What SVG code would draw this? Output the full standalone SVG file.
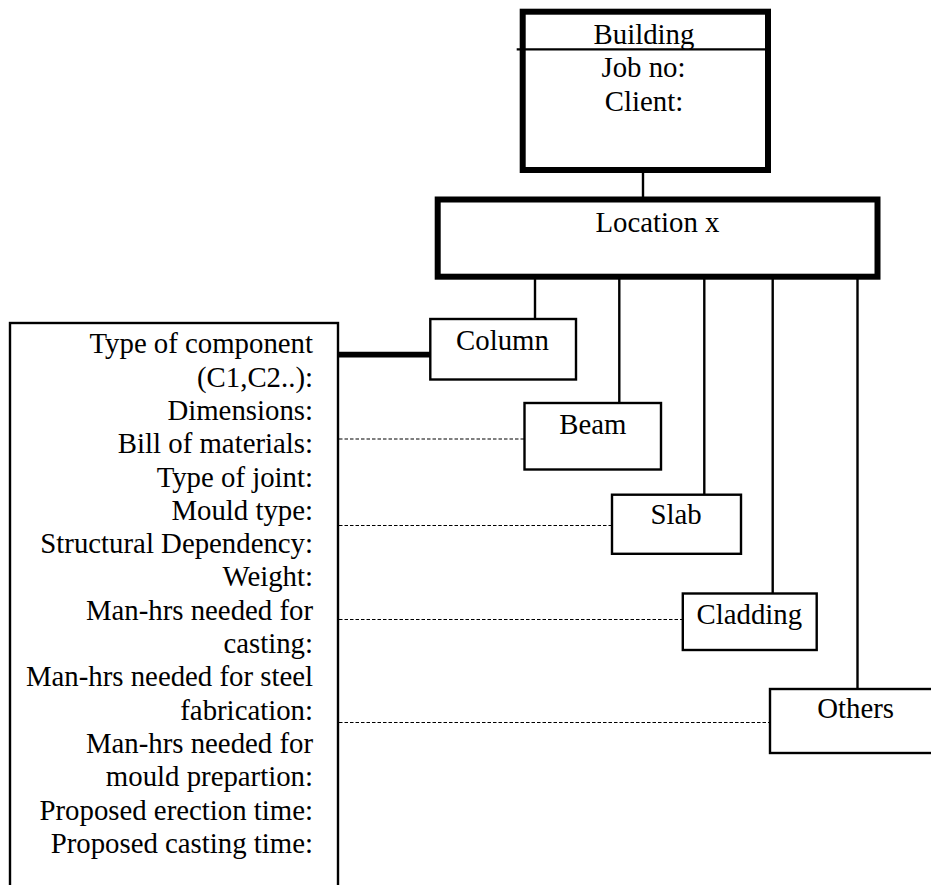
<svg xmlns="http://www.w3.org/2000/svg" width="931" height="885" viewBox="0 0 931 885" font-family="'Liberation Serif', Tinos, 'Times New Roman', 'DejaVu Serif', serif">
  <style>
    .lbl { font-family: 'Liberation Serif', Tinos, 'Times New Roman', 'DejaVu Serif', serif; font-size: 28.8px; fill: #000; }
    .mid { text-anchor: middle; }
    .end { text-anchor: end; }
    .thick { fill: #fff; stroke: #000; stroke-width: 6; }
    .box { fill: #fff; stroke: #000; stroke-width: 2.4; }
    .link { stroke: #000; stroke-width: 2.4; fill: none; }
    .dash { stroke: #000; stroke-width: 1.2; stroke-dasharray: 3.5 2; fill: none; }
  </style>
  <rect width="931" height="885" fill="#fff"/>

  <!-- connectors -->
  <g id="connectors">
    <line class="link" x1="643" y1="172" x2="643" y2="197"/>
    <line class="link" x1="535" y1="279" x2="535" y2="319"/>
    <line class="link" x1="619.3" y1="279" x2="619.3" y2="403"/>
    <line class="link" x1="704.3" y1="279" x2="704.3" y2="494.5"/>
    <line class="link" x1="772.7" y1="275" x2="772.7" y2="593.5"/>
    <line class="link" x1="857.5" y1="275" x2="857.5" y2="689"/>
    <line stroke="#000" stroke-width="5.8" x1="338" y1="354.7" x2="430.3" y2="354.7"/>
    <line class="dash" x1="339" y1="439" x2="527" y2="439"/>
    <line class="dash" x1="339" y1="525.5" x2="612" y2="525.5"/>
    <line class="dash" x1="339" y1="619.5" x2="683" y2="619.5"/>
    <line class="dash" x1="339" y1="722.5" x2="770" y2="722.5"/>
  </g>

  <!-- building header -->
  <g id="building">
    <rect class="thick" x="522.7" y="11.7" width="245.3" height="158.3"/>
    <line stroke="#000" stroke-width="2.2" x1="516.7" y1="49.3" x2="766" y2="49.3"/>
    <text class="lbl mid" x="644" y="44">Building</text>
    <text class="lbl mid" x="643.5" y="77">Job no:</text>
    <text class="lbl mid" x="644" y="110.5">Client:</text>
  </g>

  <!-- location -->
  <g id="location">
    <rect class="thick" x="437.7" y="199.5" width="439.8" height="77.2" stroke-width="5.6"/>
    <text class="lbl mid" x="657.5" y="232">Location x</text>
  </g>

  <!-- component attribute sheet -->
  <g id="details">
    <rect class="box" x="10" y="323" width="328" height="580"/>
    <text class="lbl end" x="313" y="353.3">Type of component</text>
    <text class="lbl end" x="313" y="386.6">(C1,C2..):</text>
    <text class="lbl end" x="313" y="419.9">Dimensions:</text>
    <text class="lbl end" x="313" y="453.2">Bill of materials:</text>
    <text class="lbl end" x="313" y="486.5">Type of joint:</text>
    <text class="lbl end" x="313" y="519.8">Mould type:</text>
    <text class="lbl end" x="313" y="553.1">Structural Dependency:</text>
    <text class="lbl end" x="313" y="586.4">Weight:</text>
    <text class="lbl end" x="313" y="619.7">Man-hrs needed for</text>
    <text class="lbl end" x="313" y="653">casting:</text>
    <text class="lbl end" x="313" y="686.3">Man-hrs needed for steel</text>
    <text class="lbl end" x="313" y="719.6">fabrication:</text>
    <text class="lbl end" x="313" y="752.9">Man-hrs needed for</text>
    <text class="lbl end" x="313" y="786.2">mould prepartion:</text>
    <text class="lbl end" x="313" y="819.5">Proposed erection time:</text>
    <text class="lbl end" x="313" y="852.8">Proposed casting time:</text>
  </g>

  <!-- component types -->
  <g id="column">
    <rect class="box" x="430.3" y="319" width="145.7" height="60.5"/>
    <text class="lbl mid" x="502.5" y="350">Column</text>
  </g>
  <g id="beam">
    <rect class="box" x="524.5" y="403" width="136.5" height="66.5"/>
    <text class="lbl mid" x="592.8" y="434">Beam</text>
  </g>
  <g id="slab">
    <rect class="box" x="612" y="494.7" width="129" height="59.1"/>
    <text class="lbl mid" x="676" y="524">Slab</text>
  </g>
  <g id="cladding">
    <rect class="box" x="682.8" y="593.5" width="133.9" height="56.5"/>
    <text class="lbl mid" x="749.3" y="624.3">Cladding</text>
  </g>
  <g id="others">
    <rect class="box" x="770" y="689" width="172" height="64"/>
    <text class="lbl mid" x="855.7" y="718.3">Others</text>
  </g>
</svg>
